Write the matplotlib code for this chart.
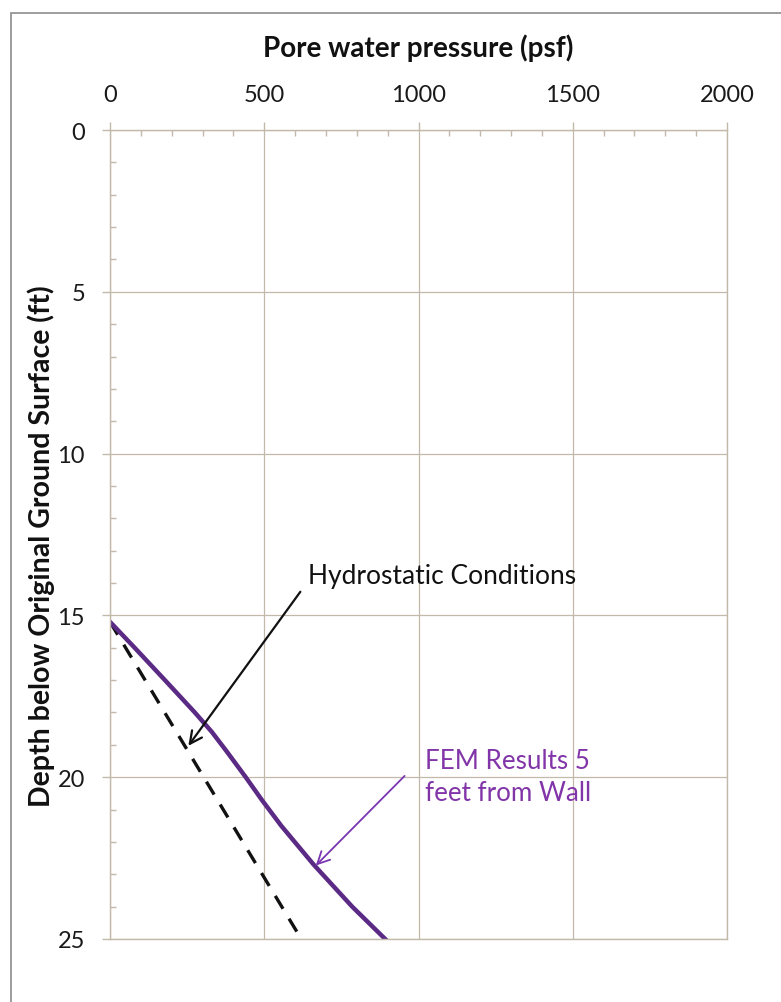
import matplotlib
matplotlib.use("Agg")
import matplotlib.pyplot as plt
from matplotlib.ticker import MultipleLocator
from matplotlib.patches import Rectangle

# ---- data ----
fem_depth = [15.2, 16.0, 17.0, 18.0, 18.6, 19.2, 20.0, 20.7, 21.5, 22.7, 24.0, 25.0]
fem_psf = [0, 80, 178, 275, 330, 378, 440, 492, 555, 660, 785, 892]
hydro_depth = [15.2, 25.0]
hydro_psf = [0, 620]
x_ticks = [0, 500, 1000, 1500, 2000]
y_ticks = [0, 5, 10, 15, 20, 25]

W, H = 781, 1003
fig = plt.figure(figsize=(W / 100, H / 100), dpi=100)
FONT = ["Lato", "DejaVu Sans"]
plt.rcParams["font.family"] = FONT

# outer frame (only top-left visible)
fig.patches.append(Rectangle((11 / W, -0.1), 1.2, (H - 14) / H + 0.1,
                             transform=fig.transFigure, fill=False,
                             edgecolor="#8c8c8c", lw=1.2))

ax = fig.add_axes([110 / W, (H - 940) / H, (727 - 110) / W, (940 - 131) / H])
gcol = "#c2b9aa"
ax.set_xlim(0, 2000)
ax.set_ylim(25, 0)
ax.xaxis.tick_top()
ax.set_xticks(x_ticks)
ax.set_yticks(y_ticks)
ax.xaxis.set_minor_locator(MultipleLocator(100))
ax.yaxis.set_minor_locator(MultipleLocator(1))
ax.grid(True, which="major", color=gcol, lw=0.9)
for s in ax.spines.values():
    s.set_color(gcol)
    s.set_linewidth(1.0)
ax.tick_params(which="major", direction="out", length=6, width=1.0, color=gcol,
               labelsize=17, pad=12, labelcolor="#1a1a1a")
ax.tick_params(which="minor", direction="in", length=4, width=1.0, color=gcol)
ax.tick_params(axis="x", which="both", top=True, bottom=False)
ax.tick_params(axis="y", which="both", left=True, right=False)

ax.plot(hydro_psf, hydro_depth, color="#111111", lw=2.4, dashes=(4.5, 3.5),
        solid_capstyle="butt")
ax.plot(fem_psf, fem_depth, color="#5a2a84", lw=3.2)

ax.annotate("", xy=(254, 19.03), xytext=(617, 14.27),
            arrowprops=dict(arrowstyle="->", color="#111111", lw=1.6,
                            mutation_scale=22, shrinkA=0, shrinkB=0))
ax.text(642, 13.78, "Hydrostatic Conditions", ha="left", va="center",
        fontsize=19, color="#111111")

ax.annotate("", xy=(667, 22.73), xytext=(955, 19.96),
            arrowprops=dict(arrowstyle="->", color="#7a35b0", lw=1.3,
                            mutation_scale=22, shrinkA=0, shrinkB=0))
ax.text(1021, 19.98, "FEM Results 5\nfeet from Wall", ha="left", va="center",
        fontsize=18.7, color="#8235a8", linespacing=1.35)

fig.text(418 / W, 1 - 48 / H, "Pore water pressure (psf)", ha="center", va="center",
         fontsize=20, fontweight="bold", color="#111111")
fig.text(41 / W, 1 - 546 / H, "Depth below Original Ground Surface (ft)", ha="center",
         va="center", rotation=90, fontsize=20.5, fontweight="bold", color="#111111")

fig.savefig("out.png", dpi=100)
